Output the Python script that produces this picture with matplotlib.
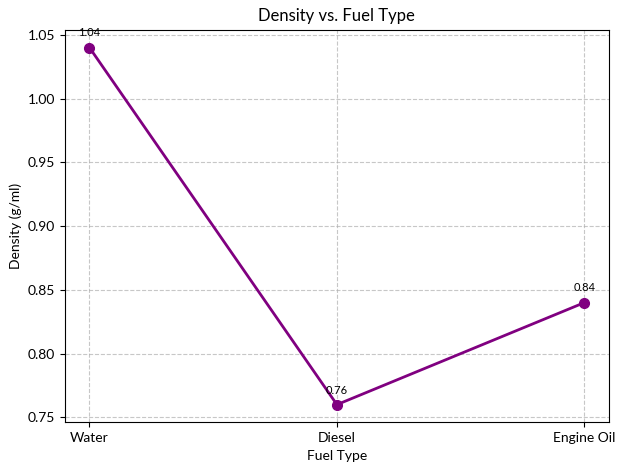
import matplotlib
matplotlib.use("Agg")
import matplotlib.pyplot as plt

plt.rcParams['font.family'] = ['Lato', 'DejaVu Sans']

fuel_types = ["Water", "Diesel", "Engine Oil"]
densities = [1.04, 0.76, 0.84]

fig, ax = plt.subplots(figsize=(6.28, 4.71), dpi=100)
ax.plot(fuel_types, densities, marker='o', color='purple', linewidth=2, markersize=7)
for x, y in zip(fuel_types, densities):
    ax.annotate(f"{y:.2f}", (x, y), textcoords="offset points", xytext=(0, 8),
                ha='center', fontsize=8)
ax.set_title("Density vs. Fuel Type", fontsize=12)
ax.set_xlabel("Fuel Type")
ax.set_ylabel("Density (g/ml)")
ax.grid(True, linestyle='--', alpha=0.7)
fig.subplots_adjust(left=0.103, right=0.970, top=0.937, bottom=0.103)
fig.savefig("out.png")
